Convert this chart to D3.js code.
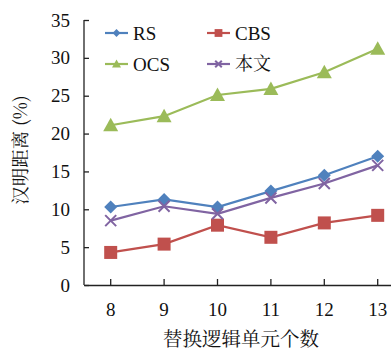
<!DOCTYPE html>
<html>
<head>
<meta charset="utf-8">
<script src="https://cdn.jsdelivr.net/npm/d3@7"></script>
<style>
  html, body { margin: 0; padding: 0; background: #fff; }
  svg { display: block; }
</style>
</head>
<body>
<svg id="chart" width="391" height="351"></svg>
<script>
// Number of replaced logic units
const categories = [8, 9, 10, 11, 12, 13];
const seriesNames = ["RS", "CBS", "OCS", "本文"];
// Hamming distance (%) per method
const rsValues   = [10.3, 11.3, 10.3, 12.4, 14.5, 17.0];
const cbsValues  = [4.3, 5.4, 7.9, 6.3, 8.2, 9.2];
const ocsValues  = [21.1, 22.3, 25.1, 25.9, 28.1, 31.2];
const oursValues = [8.5, 10.4, 9.4, 11.5, 13.4, 15.8];
const yTicks = [0, 5, 10, 15, 20, 25, 30, 35];

const series = [
  { name: seriesNames[0], values: rsValues,   color: "#4F81BD", symbol: "diamond" },
  { name: seriesNames[1], values: cbsValues,  color: "#C0504D", symbol: "square" },
  { name: seriesNames[2], values: ocsValues,  color: "#9BBB59", symbol: "triangle" },
  { name: seriesNames[3], values: oursValues, color: "#8064A2", symbol: "cross" }
];

const svg = d3.select("#chart");
const plotLeft = 84, plotBottom = 285, plotTop = 20;
const step = 53.4;

const x = d3.scaleBand()
  .domain(categories)
  .range([plotLeft, plotLeft + step * categories.length]);
const xc = d => x(d) + x.bandwidth() / 2;

const y = d3.scaleLinear().domain([0, 35]).range([plotBottom, plotTop]);

const cjkFont = "'Noto Serif CJK SC', 'Noto Sans CJK SC', sans-serif";
const numFont = "'Liberation Serif', serif";

// Axes with inward ticks
const yAxis = d3.axisLeft(y).tickValues(yTicks).tickSize(-5).tickPadding(14);
const gy = svg.append("g").attr("transform", `translate(${plotLeft},0)`).call(yAxis);
gy.select(".domain").attr("stroke", "#222").attr("stroke-width", 1.3).attr("d", `M0,${plotBottom}V${plotTop}`);
gy.selectAll(".tick line").attr("stroke", "#222").attr("stroke-width", 1.3);
gy.selectAll(".tick text").attr("fill", "#111").style("font-family", numFont).style("font-size", "19px");

const xAxis = d3.axisBottom(x).tickSize(-6).tickPadding(18).tickSizeOuter(0);
const gx = svg.append("g").attr("transform", `translate(0,${plotBottom})`).call(xAxis);
gx.select(".domain").attr("stroke", "#222").attr("stroke-width", 1.3);
gx.selectAll(".tick line").attr("stroke", "#222").attr("stroke-width", 1.3);
gx.selectAll(".tick text").attr("fill", "#111").style("font-family", numFont).style("font-size", "19px");

// Marker shapes
function drawMarker(g, sym, cx, cy, color, scale) {
  const s = scale || 1;
  if (sym === "diamond") {
    const r = 6.5 * s;
    g.append("path").attr("d", `M${cx},${cy - r}L${cx + r},${cy}L${cx},${cy + r}L${cx - r},${cy}Z`).attr("fill", color);
  } else if (sym === "square") {
    const h = 6.5 * s;
    g.append("rect").attr("x", cx - h).attr("y", cy - h).attr("width", 2 * h).attr("height", 2 * h).attr("fill", color);
  } else if (sym === "triangle") {
    const h = 7.5 * s;
    g.append("path").attr("d", `M${cx},${cy - h}L${cx + h},${cy + h * 0.8}L${cx - h},${cy + h * 0.8}Z`).attr("fill", color);
  } else if (sym === "cross") {
    const h = 5.5 * s;
    g.append("path").attr("d", `M${cx - h},${cy - h}L${cx + h},${cy + h}M${cx - h},${cy + h}L${cx + h},${cy - h}`)
      .attr("stroke", color).attr("stroke-width", 2).attr("fill", "none");
  }
}

const line = d3.line().x((d, i) => xc(categories[i])).y(d => y(d));

series.forEach(s => {
  svg.append("path").datum(s.values)
    .attr("d", line).attr("fill", "none")
    .attr("stroke", s.color).attr("stroke-width", 2.2);
  const g = svg.append("g");
  s.values.forEach((v, i) => drawMarker(g, s.symbol, xc(categories[i]), y(v), s.color, 1));
});

// Legend
const legendPos = [
  { x: 105, y: 33 }, { x: 207, y: 33 }, { x: 105, y: 64 }, { x: 207, y: 64 }
];
series.forEach((s, i) => {
  const p = legendPos[i];
  const g = svg.append("g");
  g.append("line").attr("x1", p.x).attr("x2", p.x + 23).attr("y1", p.y).attr("y2", p.y)
    .attr("stroke", s.color).attr("stroke-width", 2.2);
  drawMarker(g, s.symbol, p.x + 11.5, p.y, s.color, 0.6);
  g.append("text").attr("x", p.x + 28).attr("y", p.y).attr("dy", "0.35em")
    .attr("fill", "#111")
    .style("font-family", s.name === "本文" ? cjkFont : numFont)
    .style("font-size", s.name === "本文" ? "18px" : "19px")
    .text(s.name);
});

// Axis titles
svg.append("text")
  .attr("transform", "translate(21,150) rotate(-90)")
  .attr("text-anchor", "middle").attr("dy", "0.35em")
  .attr("fill", "#111").style("font-family", cjkFont).style("font-size", "18.5px")
  .text("汉明距离 (%)");

svg.append("text")
  .attr("x", 241).attr("y", 339).attr("text-anchor", "middle").attr("dy", "0.35em")
  .attr("fill", "#111").style("font-family", cjkFont).style("font-size", "19.5px")
  .text("替换逻辑单元个数");
</script>
</body>
</html>
